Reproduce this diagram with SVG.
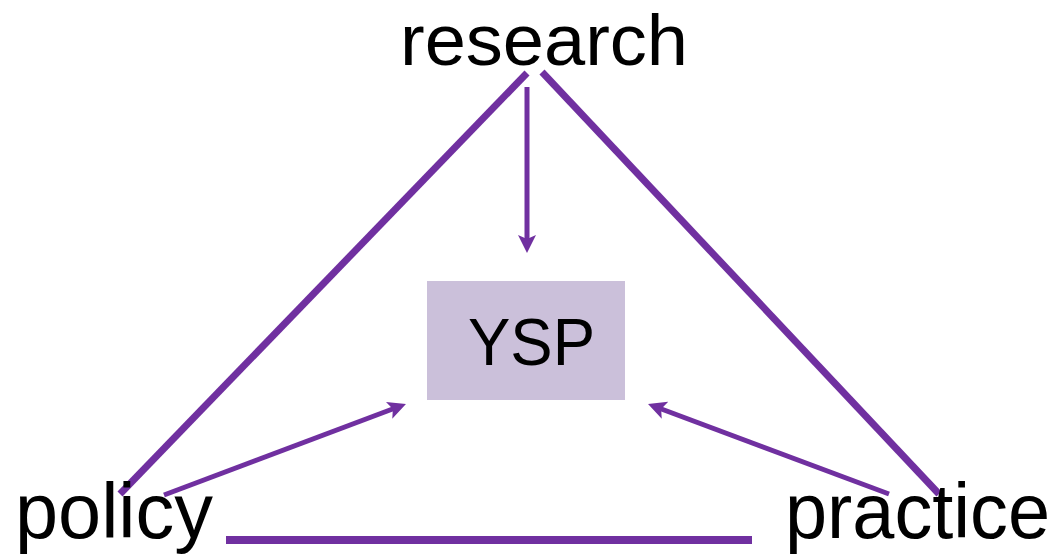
<svg xmlns="http://www.w3.org/2000/svg" width="1058" height="555" viewBox="0 0 1058 555">
  <style>
    .lbl { font-family: "Liberation Sans", Arial, sans-serif; font-size: 78px; fill: #000; }
    .edge { stroke: #7030A0; fill: none; stroke-linecap: butt; }
    .thick { stroke-width: 7; }
    .thin { stroke-width: 5; }
  </style>
  <defs>
    <marker id="ah" markerUnits="userSpaceOnUse" markerWidth="20" markerHeight="20" refX="8" refY="9" orient="auto" viewBox="0 0 20 18">
      <path d="M0,0 L18,9 L0,18 L4,9 z" fill="#7030A0"/>
    </marker>
  </defs>
  <rect width="1058" height="555" fill="#fff"/>
  <g id="connectors">
    <line class="edge thick" x1="120" y1="494" x2="527" y2="73"/>
    <line class="edge thick" x1="542" y1="72" x2="939" y2="494"/>
    <line class="edge" stroke-width="8" x1="226" y1="540" x2="752" y2="540"/>
    <line class="edge thin" x1="527" y1="87" x2="527" y2="243" marker-end="url(#ah)"/>
    <line class="edge thin" x1="164" y1="495" x2="396.6" y2="407.5" marker-end="url(#ah)"/>
    <line class="edge thin" x1="889" y1="494" x2="657.4" y2="407.5" marker-end="url(#ah)"/>
  </g>
  <g id="research">
    <text class="lbl" x="400" y="65" textLength="288" lengthAdjust="spacingAndGlyphs" style="font-size:72px">research</text>
  </g>
  <g id="policy">
    <text class="lbl" x="15" y="538" textLength="198" lengthAdjust="spacingAndGlyphs">policy</text>
  </g>
  <g id="practice">
    <text class="lbl" x="785" y="538" textLength="265" lengthAdjust="spacingAndGlyphs">practice</text>
  </g>
  <g id="ysp">
    <rect x="427" y="281" width="198" height="119" fill="#CBC0DA"/>
    <text class="lbl" x="468" y="365" textLength="127" lengthAdjust="spacingAndGlyphs" style="font-size:67px">YSP</text>
  </g>
</svg>
